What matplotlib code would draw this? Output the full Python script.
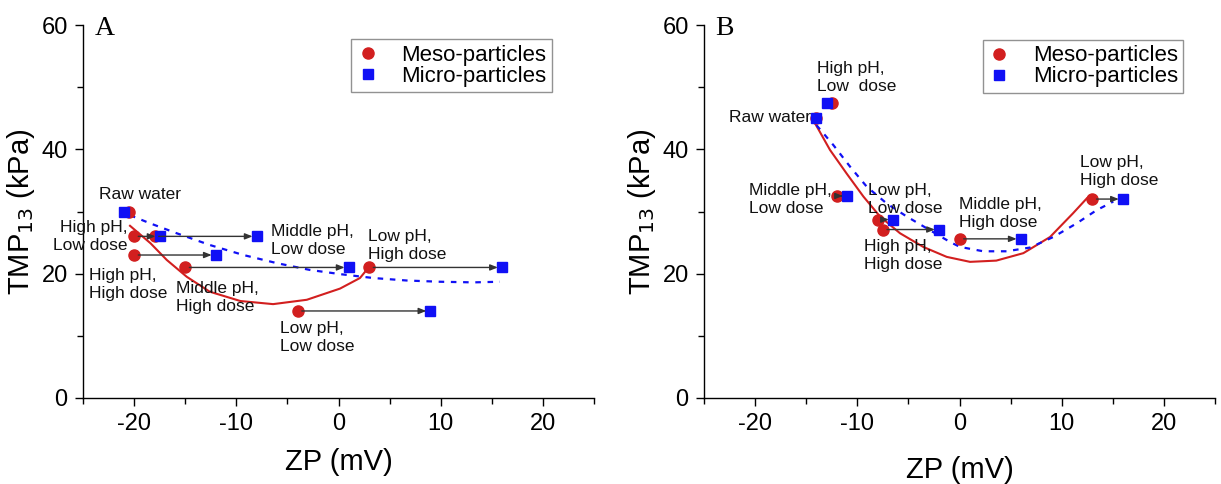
import matplotlib
matplotlib.use("Agg")
import matplotlib.pyplot as plt
from matplotlib.lines import Line2D
from matplotlib.ticker import MultipleLocator

plt.rcParams['font.family'] = ['Liberation Sans', 'DejaVu Sans']
plt.rcParams['axes.unicode_minus'] = False

# ---------------- Panel A data ----------------
labels_A = ["Raw water", "High pH,\nLow dose", "Middle pH,\nLow dose", "High pH,\nHigh dose",
            "Middle pH,\nHigh dose", "Low pH,\nHigh dose", "Low pH,\nLow dose"]
meso_x_A = [-20.5, -20, -18, -20, -15, 3, -4]
meso_y_A = [30, 26, 26, 23, 21, 21, 14]
micro_x_A = [-21, -17.5, -8, -12, 1, 16, 9]
micro_y_A = [30, 26, 26, 23, 21, 21, 14]
arrows_A = [1, 2, 3, 4, 5, 6]
label_x_A = [-23.4, -20.6, -6.6, -24.4, -15.9, 2.9, -5.7]
label_y_A = [32.8, 26.0, 25.4, 18.2, 16.1, 24.6, 9.8]
label_ha_A = ["left", "right", "left", "left", "left", "left", "left"]

fit_meso_x_A = [-20.4, -18.4, -16.8, -14.85, -12.6, -9.6, -6.4, -3.1, 0.15, 2.1, 2.9]
fit_meso_y_A = [27.7, 24.9, 22.2, 19.5, 17.1, 15.6, 15.1, 15.8, 17.6, 19.3, 20.9]
fit_micro_x_A = [-20.4, -18.44, -15.83, -12.57, -9.3, -6.05, -2.8, 0.3, 3.4, 6.67, 9.93, 13.2, 15.8]
fit_micro_y_A = [29.4, 28.1, 26.5, 24.6, 23.0, 21.7, 20.6, 19.9, 19.3, 18.9, 18.7, 18.6, 18.7]

# ---------------- Panel B data ----------------
labels_B = ["Raw water", "High pH,\nLow  dose", "Middle pH,\nLow dose", "Low pH,\nLow dose",
            "High pH,\nHigh dose", "Middle pH,\nHigh dose", "Low pH,\nHigh dose"]
meso_x_B = [-14, -12.5, -12, -8, -7.5, 0, 13]
meso_y_B = [45, 47.5, 32.5, 28.7, 27.1, 25.6, 32]
micro_x_B = [-14, -13, -11, -6.5, -2, 6, 16]
micro_y_B = [45, 47.5, 32.5, 28.7, 27.1, 25.6, 32]
arrows_B = [2, 3, 4, 5, 6]
label_x_B = [-14.5, -13.95, -20.6, -8.95, -9.3, -0.05, 11.8]
label_y_B = [45.1, 51.5, 32.0, 32.0, 22.9, 29.7, 36.4]
label_ha_B = ["right", "left", "left", "left", "left", "left", "left"]

fit_meso_x_B = [-14.14, -12.67, -11.04, -9.4, -7.78, -5.82, -3.54, -1.25, 1.03, 3.6, 6.25, 8.86, 11.1, 12.45]
fit_meso_y_B = [44.2, 39.9, 36.1, 32.4, 29.2, 26.5, 24.3, 22.7, 21.9, 22.1, 23.3, 25.9, 29.7, 32.1]
fit_micro_x_B = [-14, -12.35, -10.7, -9.08, -7.13, -5.17, -2.9, -0.93, 0.05, 2.33, 4.6, 6.9, 9.18, 11.47, 13.4, 15.05]
fit_micro_y_B = [43.9, 40.7, 37.2, 34.0, 31.3, 29.2, 27.0, 25.1, 24.3, 23.6, 23.6, 24.2, 25.9, 28.1, 30.2, 31.6]

xticks = [-20, -10, 0, 10, 20]
yticks = [0, 20, 40, 60]

RED = "#d21f1f"
BLUE = "#1010f5"

fig = plt.figure(figsize=(12.21, 4.84), dpi=100)
axA = fig.add_axes([83 / 1221, 86 / 484, 511 / 1221, 373 / 484])
axB = fig.add_axes([704 / 1221, 86 / 484, 511 / 1221, 373 / 484])


def draw(ax, mx, my, ux, uy, arrows, lx, ly, lha, labels, fmx, fmy, fux, fuy,
         letter, leg_anchor, xlabelpad):
    ax.plot(fmx, fmy, color=RED, lw=1.5, zorder=2)
    ax.plot(fux, fuy, color=BLUE, lw=1.6, ls=(0, (2.5, 3)), zorder=2)
    ax.plot(mx, my, 'o', color=RED, ms=8, mec=RED, ls='none', zorder=3)
    ax.plot(ux, uy, 's', color=BLUE, ms=7, mec=BLUE, ls='none', zorder=4)
    for i in arrows:
        ax.annotate("", xy=(ux[i], uy[i]), xytext=(mx[i], my[i]),
                    arrowprops=dict(arrowstyle='-|>,head_length=0.45,head_width=0.18',
                                    color='#333333', lw=1.0, shrinkA=3, shrinkB=3),
                    zorder=5)
    for x, y, ha, t in zip(lx, ly, lha, labels):
        ax.text(x, y, t, ha=ha, va='center', fontsize=12.5, color='#111111',
                linespacing=1.25, zorder=6)
    ax.set_xlim(-25, 25)
    ax.set_ylim(0, 60)
    ax.set_xticks(xticks)
    ax.set_yticks(yticks)
    ax.xaxis.set_minor_locator(MultipleLocator(5))
    ax.yaxis.set_minor_locator(MultipleLocator(10))
    ax.tick_params(which='major', direction='out', length=6, width=1, labelsize=17, pad=5)
    ax.tick_params(which='minor', direction='out', length=4, width=1)
    for s in ['top', 'right']:
        ax.spines[s].set_visible(False)
    for s in ['left', 'bottom']:
        ax.spines[s].set_linewidth(1.0)
    ax.set_xlabel("ZP (mV)", fontsize=21, labelpad=xlabelpad)
    ax.set_ylabel("TMP$_{13}$ (kPa)", fontsize=21)
    ax.yaxis.set_label_coords(-0.09, 0.5)
    ax.text(0.022, 1.025, letter, transform=ax.transAxes, ha='left', va='top',
            fontsize=20, family='Liberation Serif')
    handles = [Line2D([], [], marker='o', color=RED, ls='none', ms=8),
               Line2D([], [], marker='s', color=BLUE, ls='none', ms=7)]
    leg = ax.legend(handles, ["Meso-particles", "Micro-particles"], loc='upper right',
                    bbox_to_anchor=leg_anchor, fontsize=16, frameon=True, fancybox=False,
                    edgecolor='#777777', borderpad=0.25, handlelength=1.0,
                    handletextpad=1.0, labelspacing=0.0, borderaxespad=0)
    leg.get_frame().set_linewidth(1.0)


draw(axA, meso_x_A, meso_y_A, micro_x_A, micro_y_A, arrows_A, label_x_A, label_y_A,
     label_ha_A, labels_A, fit_meso_x_A, fit_meso_y_A, fit_micro_x_A, fit_micro_y_A,
     "A", (0.918, 0.962), 9)
draw(axB, meso_x_B, meso_y_B, micro_x_B, micro_y_B, arrows_B, label_x_B, label_y_B,
     label_ha_B, labels_B, fit_meso_x_B, fit_meso_y_B, fit_micro_x_B, fit_micro_y_B,
     "B", (0.938, 0.96), 15)

fig.savefig("out.png", dpi=100)
